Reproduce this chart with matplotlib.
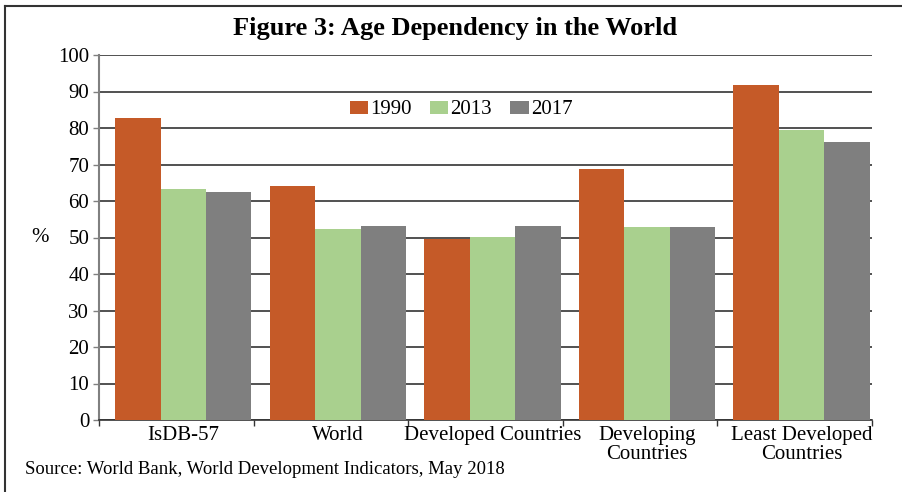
import matplotlib
matplotlib.use("Agg")
import matplotlib.pyplot as plt
from matplotlib.lines import Line2D
import numpy as np

categories = ["IsDB-57", "World", "Developed Countries", "Developing\nCountries", "Least Developed\nCountries"]
years = ["1990", "2013", "2017"]
v1990 = [82.7, 64.1, 49.6, 68.8, 91.8]
v2013 = [63.3, 52.3, 50.1, 52.9, 79.5]
v2017 = [62.5, 53.2, 53.2, 52.9, 76.2]
series = [v1990, v2013, v2017]
colors = ["#C55A28", "#A9D08E", "#7F7F7F"]
yticks = [0, 10, 20, 30, 40, 50, 60, 70, 80, 90, 100]

plt.rcParams["font.family"] = ["Liberation Serif", "DejaVu Serif"]

fig = plt.figure(figsize=(9.03, 4.92), dpi=100)
ax = fig.add_axes([99/903, (492-420)/492, (872-99)/903, (420-55)/492])

n = len(categories)
x = np.arange(n)
center_shift = 0.545
bw = 0.294
for j, (vals, c, yr) in enumerate(zip(series, colors, years)):
    ax.bar(x + center_shift + (j - 1) * bw, vals, width=bw, color=c, label=yr, zorder=3, linewidth=0)

ax.set_xlim(0, n)
ax.set_ylim(0, 100)
ax.set_yticks(yticks)
ax.set_yticklabels([str(t) for t in yticks], fontsize=15)
ax.yaxis.grid(True, color="#333333", linewidth=1.2, zorder=0)
ax.set_axisbelow(True)

ax.set_xticks(np.arange(n + 1))
ax.set_xticklabels([])
ax.set_xticks(x + center_shift, minor=True)
ax.set_xticklabels(categories, minor=True, fontsize=15, linespacing=1.05)
ax.tick_params(axis="x", which="minor", length=0, pad=4)
ax.tick_params(axis="x", which="major", length=4, width=1, color="#333333", direction="out")
ax.tick_params(axis="y", length=4, width=1, color="#808080", pad=3)

for s in ["top", "right"]:
    ax.spines[s].set_visible(False)
ax.spines["left"].set_color("#808080")
ax.spines["left"].set_linewidth(1.5)
ax.spines["bottom"].set_color("#333333")
ax.spines["bottom"].set_linewidth(1.2)

ax.text((40-99)/(872-99), 50, "%", transform=ax.get_yaxis_transform(), fontsize=15, ha="center", va="center")

leg = ax.legend(loc="center", bbox_to_anchor=((461-99)/(872-99), (420-110)/(420-55)), ncol=3, frameon=False,
                fontsize=15, handlelength=0.9, handleheight=0.6, handletextpad=0.1, columnspacing=0.85,
                borderaxespad=0)

fig.text(0.504, 1 - 29/492, "Figure 3: Age Dependency in the World", ha="center", va="center",
         fontsize=19, fontweight="bold")
fig.text(25/903, 1 - 469/492, "Source: World Bank, World Development Indicators, May 2018", ha="left",
         va="center", fontsize=13.5)

# frame lines
fig.add_artist(Line2D([5/903, 5/903], [0, 1 - 6/492], transform=fig.transFigure, color="#333333", lw=1.5))
fig.add_artist(Line2D([5/903, 1], [1 - 6/492, 1 - 6/492], transform=fig.transFigure, color="#333333", lw=1.5))

fig.savefig("out.png", dpi=100)
